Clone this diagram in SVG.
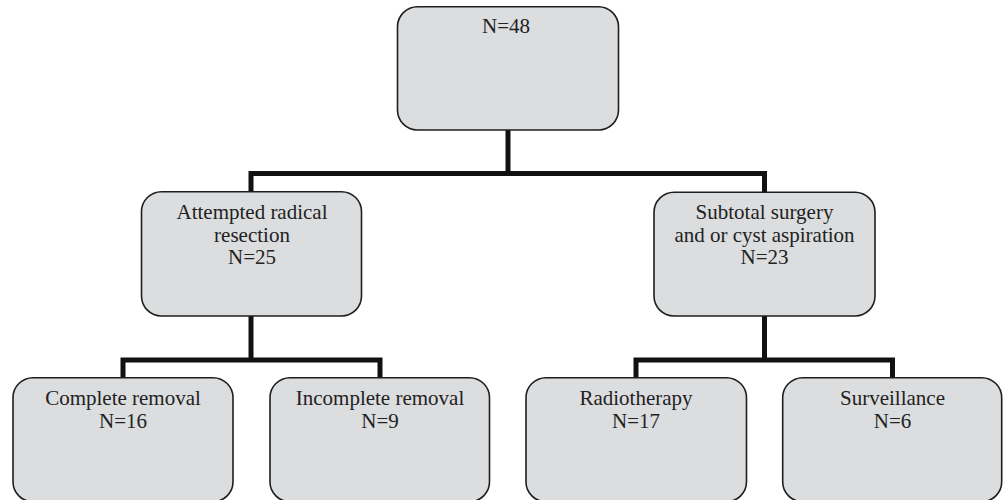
<svg xmlns="http://www.w3.org/2000/svg" width="1005" height="500" viewBox="0 0 1005 500">
<style>
.box{fill:#dcdddf;stroke:#1e1e1e;stroke-width:1.6}
.lbl{font-family:"Liberation Serif","Times New Roman",serif;font-size:21px;fill:#222;text-anchor:middle}
.conn{fill:none;stroke:#111;stroke-width:5;stroke-linejoin:miter;stroke-linecap:butt}
</style>
<rect x="0" y="0" width="1005" height="500" fill="#ffffff"/>
<g id="connectors">
<path class="conn" d="M508,130 V173.5"/>
<path class="conn" d="M251,191 V173.5 H764.5 V192"/>
<path class="conn" d="M251,316 V360"/>
<path class="conn" d="M123,378 V360 H380 V378"/>
<path class="conn" d="M764.5,316 V360"/>
<path class="conn" d="M636,378 V360 H892.5 V378"/>
</g>
<g id="n48">
<rect class="box" x="397.5" y="6.8" width="221" height="123.2" rx="20" ry="20"/>
<text class="lbl" x="506" y="33">N=48</text>
</g>
<g id="radical">
<rect class="box" x="141.5" y="191.7" width="220" height="124.3" rx="20" ry="20"/>
<text class="lbl" x="252" y="219">Attempted radical</text>
<text class="lbl" x="252" y="241.5">resection</text>
<text class="lbl" x="252" y="264">N=25</text>
</g>
<g id="subtotal">
<rect class="box" x="654" y="192.3" width="221" height="123.7" rx="20" ry="20"/>
<text class="lbl" x="764.5" y="219">Subtotal surgery</text>
<text class="lbl" x="764.5" y="241.5">and or cyst aspiration</text>
<text class="lbl" x="764.5" y="264">N=23</text>
</g>
<g id="complete">
<rect class="box" x="13" y="377.7" width="220" height="124" rx="20" ry="20"/>
<text class="lbl" x="123" y="405">Complete removal</text>
<text class="lbl" x="123" y="427.5">N=16</text>
</g>
<g id="incomplete">
<rect class="box" x="270" y="377.7" width="219.5" height="124" rx="20" ry="20"/>
<text class="lbl" x="380" y="405">Incomplete removal</text>
<text class="lbl" x="380" y="427.5">N=9</text>
</g>
<g id="radiotherapy">
<rect class="box" x="526" y="377.7" width="220.5" height="124" rx="20" ry="20"/>
<text class="lbl" x="636" y="405">Radiotherapy</text>
<text class="lbl" x="636" y="427.5">N=17</text>
</g>
<g id="surveillance">
<rect class="box" x="782.7" y="377.7" width="219" height="124" rx="20" ry="20"/>
<text class="lbl" x="892.5" y="405">Surveillance</text>
<text class="lbl" x="892.5" y="427.5">N=6</text>
</g>
</svg>
